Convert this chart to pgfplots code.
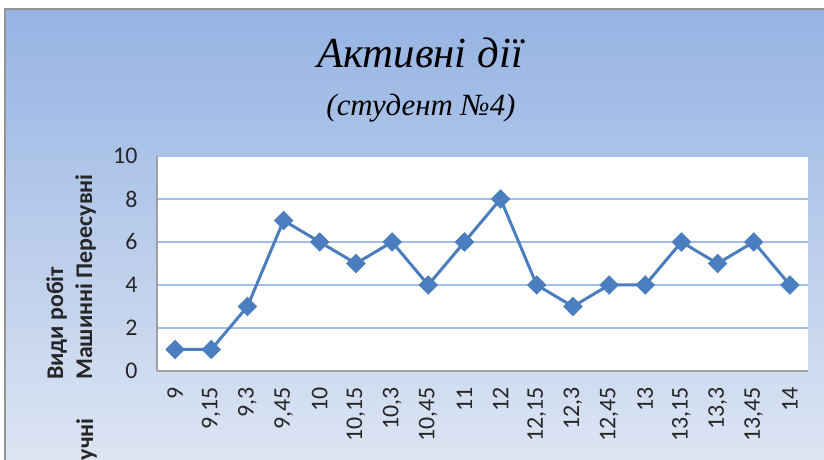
\documentclass[border=0pt]{standalone}
\usepackage{pgfplots}
\pgfplotsset{compat=1.18}
\usepackage{fontspec}
\setmainfont{Carlito}
\newfontfamily\titlefont{Liberation Serif}
\definecolor{bgtop}{HTML}{95B3E3}
\definecolor{bgbot}{HTML}{DEE6F3}
\definecolor{gridblue}{HTML}{A3BCE8}
\definecolor{linecol}{HTML}{4A7EBE}
\definecolor{axgray}{HTML}{A0A0A0}
\begin{document}
\begin{tikzpicture}
\clip (0bp,0bp) rectangle (824bp,460bp);
\shade[top color=bgtop, bottom color=bgbot] (5bp,-10bp) rectangle (840bp,451bp);
\draw[color=gray!85, line width=2bp] (5bp,-10bp) rectangle (840bp,451bp);
\begin{axis}[
  at={(157bp,89bp)}, anchor=south west,
  scale only axis, width=651bp, height=215bp,
  xmin=-0.5, xmax=17.5, ymin=0, ymax=10,
  ytick={0,2,4,6,8,10},
  xtick={0,...,17},
  xticklabels={9,{9,15},{9,3},{9,45},10,{10,15},{10,3},{10,45},11,12,{12,15},{12,3},{12,45},13,{13,15},{13,3},{13,45},14},
  axis background/.style={fill=white},
  ymajorgrids,
  grid style={color=gridblue, line width=1.6bp},
  axis x line*=bottom, axis y line*=left,
  axis line style={axgray, line width=1.5bp, -},
  tick style={draw=none},
  /pgf/number format/assume math mode=true,
  ticklabel style={font=\fontsize{24}{24}\selectfont, color=black!85},
  yticklabel style={xshift=-16bp},
  xticklabel style={rotate=90, anchor=east, xshift=-13bp},
  clip=false,
]
\addplot[color=linecol, line width=3bp, mark=square*, mark size=6.6bp,
  mark options={solid, rotate=45, line width=0.5bp, fill=linecol}]
coordinates {(0,1)(1,1)(2,3)(3,7)(4,6)(5,5)(6,6)(7,4)(8,6)(9,8)(10,4)(11,3)(12,4)(13,4)(14,6)(15,5)(16,6)(17,4)};
\end{axis}
\node[rotate=90, anchor=base west, inner sep=0, font=\bfseries\fontsize{24}{24}\selectfont, color=black!85] at (63bp,80bp) {Види робіт};
\node[rotate=90, anchor=base west, inner sep=0, font=\bfseries\fontsize{24}{24}\selectfont, color=black!85] at (92bp,80bp) {Машинні Пересувні};
\node[rotate=90, anchor=base east, inner sep=0, font=\bfseries\fontsize{24}{24}\selectfont, color=black!85] at (93bp,42bp) {Ручні};
\node[anchor=base, inner sep=0, font=\titlefont\itshape\fontsize{43}{43}\selectfont] at (420bp,392bp) {Активні дії};
\node[anchor=base, inner sep=0, font=\titlefont\itshape\fontsize{31}{31}\selectfont] at (421bp,344bp) {(студент №4)};
\end{tikzpicture}
\end{document}
